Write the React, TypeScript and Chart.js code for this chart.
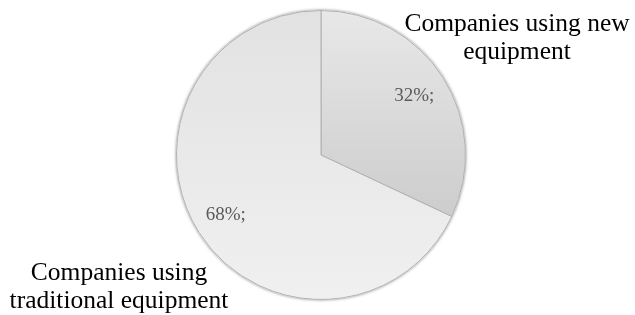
import React, { useEffect, useRef } from "react";
import { Chart, registerables } from "chart.js";

Chart.register(...registerables);

const categories = ["Companies using new equipment", "Companies using traditional equipment"];
const values = [32, 68];
const valueLabels = ["32%;", "68%;"];
const outerLabelLines = [["Companies using new", "equipment"], ["Companies using", "traditional equipment"]];

export default function App() {
  const ref = useRef<HTMLCanvasElement | null>(null);
  useEffect(() => {
    const canvas = ref.current!;
    const labelPlugin = {
      id: "pieLabels",
      afterDatasetsDraw(chart: any) {
        const ctx = chart.ctx;
        const meta = chart.getDatasetMeta(0);
        ctx.save();
        ctx.textAlign = "center";
        ctx.textBaseline = "middle";
        ctx.font = "19px 'Liberation Serif', 'Times New Roman', serif";
        ctx.fillStyle = "#5a5a5a";
        const factors = [0.765, 0.78];
        meta.data.forEach((arc: any, i: number) => {
          const p = arc.getProps(["x", "y", "startAngle", "endAngle", "outerRadius"], true);
          const mid = (p.startAngle + p.endAngle) / 2;
          const r = p.outerRadius * factors[i];
          ctx.fillText(valueLabels[i], p.x + Math.cos(mid) * r, p.y + Math.sin(mid) * r);
        });
        ctx.font = "25.5px 'Liberation Serif', 'Times New Roman', serif";
        ctx.fillStyle = "#000000";
        const pos = [
          [517, 24],
          [119, 273],
        ];
        outerLabelLines.forEach((lines, i) => {
          lines.forEach((t, j) => {
            ctx.fillText(t, pos[i][0], pos[i][1] + j * 28.5);
          });
        });
        ctx.restore();
      },
    };
    const shadowPlugin = {
      id: "shadow",
      beforeDatasetsDraw(chart: any) {
        const ctx = chart.ctx;
        const arc = chart.getDatasetMeta(0).data[0];
        if (!arc) return;
        ctx.save();
        ctx.beginPath();
        ctx.arc(arc.x, arc.y, arc.outerRadius + 0.5, 0, Math.PI * 2);
        ctx.shadowColor = "rgba(0,0,0,0.5)";
        ctx.shadowBlur = 3;
        ctx.fillStyle = "#ffffff";
        ctx.fill();
        ctx.restore();
      },
    };
    const chart = new Chart(canvas, {
      type: "pie",
      data: {
        labels: categories,
        datasets: [
          {
            data: values,
            backgroundColor: (c: any) => {
              const area = c.chart.chartArea;
              if (!area) return "#e6e6e6";
              const g = c.chart.ctx.createLinearGradient(0, area.top, 0, area.bottom);
              if (c.dataIndex === 0) {
                g.addColorStop(0, "#e8e8e8");
                g.addColorStop(0.75, "#cbcbcb");
                g.addColorStop(1, "#c4c4c4");
              } else {
                g.addColorStop(0, "#e2e2e2");
                g.addColorStop(1, "#f0f0f0");
              }
              return g;
            },
            borderColor: "#b0b0b0",
            borderWidth: 1,
          },
        ],
      },
      options: {
        animation: false,
        responsive: false,
        maintainAspectRatio: false,
        layout: { padding: { top: 10, bottom: 15, left: 7, right: 0 } },
        plugins: { legend: { display: false }, tooltip: { enabled: false } },
      },
      plugins: [shadowPlugin, labelPlugin],
    });
    return () => chart.destroy();
  }, []);
  return (
    <div style={{ position: "fixed", left: 0, top: 0, width: 635, height: 315, background: "#fff" }}>
      <canvas ref={ref} width={635} height={315} style={{ width: 635, height: 315, display: "block" }} />
    </div>
  );
}
